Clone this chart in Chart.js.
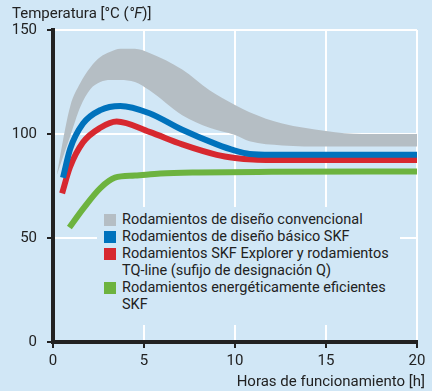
<!DOCTYPE html>
<html lang="es">
<head>
    <meta charset="UTF-8">
    <title>Temperatura de funcionamiento</title>
    <script src="https://cdn.jsdelivr.net/npm/chart.js"></script>
    <style>
        body { margin: 0; background: #d1e7f6; }
        .wrap { position: relative; width: 432px; height: 391px; background: #d1e7f6; font-family: Roboto, sans-serif; color: #222; }
        canvas { position: absolute; left: 0; top: 0; }
        .y-title { position: absolute; left: 12px; top: 4px; font-size: 15px; line-height: 18px; }
        .x-title { position: absolute; right: 7px; top: 372px; font-size: 15px; line-height: 18px; }
        .legend { position: absolute; left: 97px; top: 207px; width: 303px; height: 118px; background: #d1e7f6; font-size: 14.5px; line-height: 17px; padding-top: 4px; box-sizing: border-box; }
        .legend .item { position: relative; padding-left: 25px; white-space: pre-line; }
        .legend .box { position: absolute; left: 7px; top: 3px; width: 12px; height: 12px; }
    </style>
</head>
<body>
    <div class="wrap">
        <canvas id="tempChart" width="432" height="391"></canvas>
        <div class="y-title">Temperatura [°C (<i>°F</i>)]</div>
        <div class="x-title">Horas de funcionamiento [h]</div>
        <div class="legend" id="legend"></div>
    </div>

    <script>
        // valores (horas / °C)
        const grayHours  = [0.2, 0.55, 0.95, 1.5, 2.05, 2.6, 3.15, 3.7, 4.5, 5.3, 7.1, 8.6, 10, 10.8, 12.6, 15, 17, 20];
        const grayTop    = [80, 97, 113.5, 124.5, 132, 137, 139.5, 141, 141, 139, 131, 121, 114, 110.5, 105, 101.5, 100, 100];
        const grayBottom = [80, 89, 99, 113, 121.5, 125, 126, 126, 125, 121, 109, 103, 99.5, 96.5, 94.5, 94, 94, 94];

        const blueHours = [0.55, 0.95, 1.65, 2.6, 3.7, 5.3, 7.1, 9, 10, 10.8, 12, 20];
        const blueTemp  = [79, 93, 105, 111.5, 113.5, 110, 102, 95, 92, 90.4, 90, 90];

        const redHours = [0.5, 0.93, 1.65, 2.6, 3.5, 5.3, 7.1, 9, 10, 11, 12, 20];
        const redTemp  = [71.5, 84, 96, 103, 106, 101, 95, 90, 88.5, 87.7, 87.5, 87.5];

        const greenHours = [0.9, 1.65, 2.6, 3.4, 4.5, 5.9, 8, 12, 20];
        const greenTemp  = [55, 64, 74, 79, 80, 81, 81.5, 81.8, 82];

        const xTicks = [0, 5, 10, 15, 20];
        const yTicks = [0, 50, 100, 150];

        const legendLabels = [
            'Rodamientos de diseño convencional',
            'Rodamientos de diseño básico SKF',
            'Rodamientos SKF Explorer y rodamientos\nTQ-line (sufijo de designación Q)',
            'Rodamientos energéticamente eficientes\nSKF'
        ];
        const legendColors = ['#b5bec4', '#0072bc', '#d7282f', '#6db33f'];

        const toPoints = (xs, ys) => xs.map((x, i) => ({ x: x, y: ys[i] }));

        const legendEl = document.getElementById('legend');
        legendLabels.forEach((text, i) => {
            const item = document.createElement('div');
            item.className = 'item';
            item.innerHTML = '<span class="box" style="background:' + legendColors[i] + '"></span>';
            item.appendChild(document.createTextNode(text));
            legendEl.appendChild(item);
        });

        const lineStyle = { borderWidth: 6, pointRadius: 0, fill: false, cubicInterpolationMode: 'monotone', borderCapStyle: 'butt' };
        const bandStyle = { borderWidth: 0, pointRadius: 0, cubicInterpolationMode: 'monotone' };

        new Chart(document.getElementById('tempChart').getContext('2d'), {
            type: 'line',
            data: {
                datasets: [
                    { ...bandStyle, data: toPoints(grayHours, grayBottom), fill: false, order: 10 },
                    { ...bandStyle, data: toPoints(grayHours, grayTop), fill: '-1', backgroundColor: legendColors[0], order: 9 },
                    { ...lineStyle, data: toPoints(greenHours, greenTemp), borderColor: legendColors[3], order: 3 },
                    { ...lineStyle, data: toPoints(redHours, redTemp), borderColor: legendColors[2], order: 2 },
                    { ...lineStyle, data: toPoints(blueHours, blueTemp), borderColor: legendColors[1], order: 1 }
                ]
            },
            options: {
                responsive: false,
                animation: false,
                devicePixelRatio: 1,
                layout: { padding: { top: 30, right: 15, left: 0, bottom: 0 } },
                plugins: { legend: { display: false }, tooltip: { enabled: false } },
                scales: {
                    x: {
                        type: 'linear', min: 0, max: 20,
                        afterBuildTicks: (s) => { s.ticks = xTicks.map(v => ({ value: v })); },
                        afterFit: (s) => { s.height = 49; },
                        grid: { color: '#ffffff', lineWidth: 2, tickColor: '#222', tickLength: 6, tickWidth: 2 },
                        border: { color: '#222', width: 4 },
                        ticks: { color: '#222', font: { family: 'Roboto', size: 15 }, padding: 4, maxRotation: 0 }
                    },
                    y: {
                        min: 0, max: 150,
                        afterBuildTicks: (s) => { s.ticks = yTicks.map(v => ({ value: v })); },
                        afterFit: (s) => { s.width = 53; },
                        grid: { color: '#ffffff', lineWidth: 2, tickColor: '#222', tickLength: 6, tickWidth: 2 },
                        border: { color: '#222', width: 4 },
                        ticks: { color: '#222', font: { family: 'Roboto', size: 15 }, padding: 10 }
                    }
                }
            }
        });
    </script>
</body>
</html>
